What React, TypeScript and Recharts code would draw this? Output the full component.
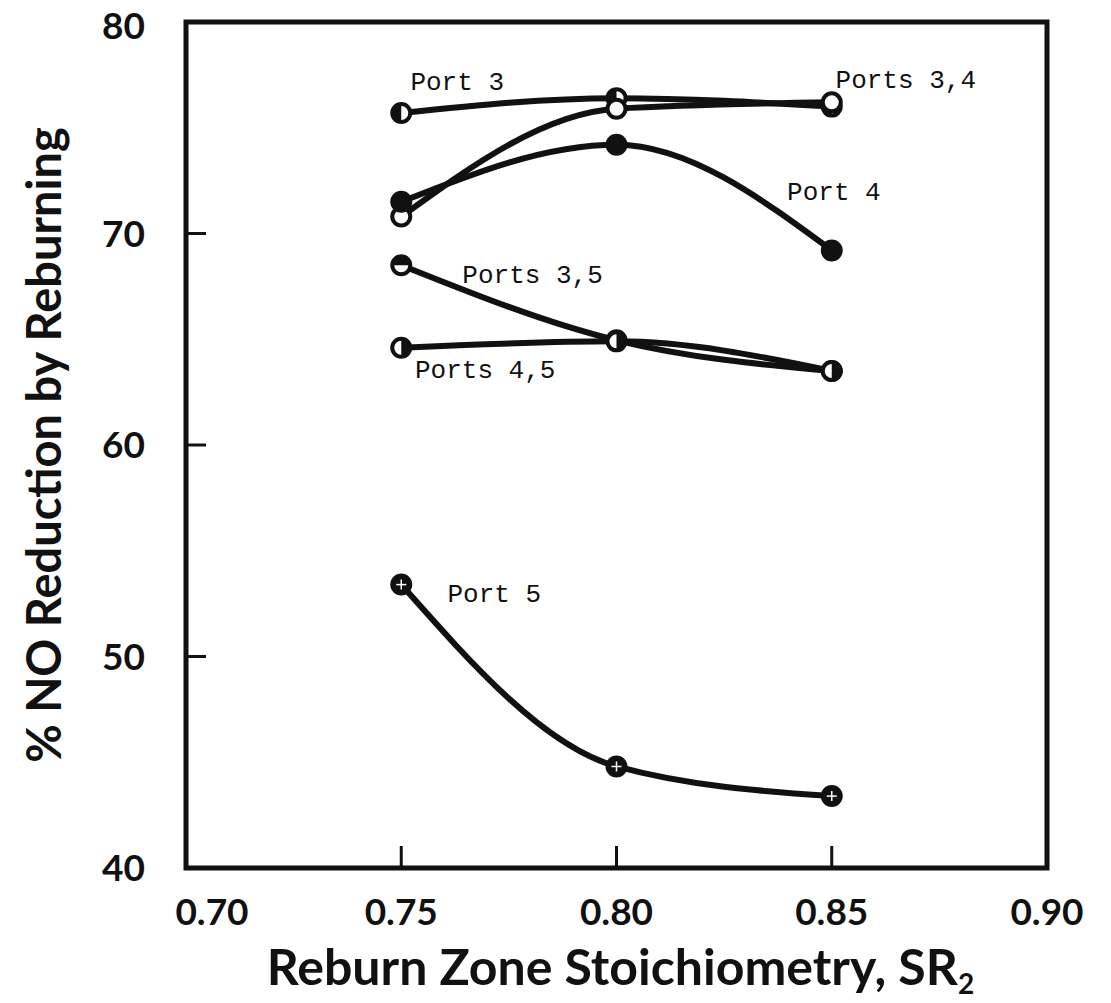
import React from "react";
import {
  LineChart,
  Line,
  XAxis,
  YAxis,
  ReferenceArea,
  ReferenceDot,
  Label,
} from "recharts";

// reburn zone stoichiometry SR2
const SR2 = [0.75, 0.8, 0.85];

// % NO reduction, one list per injection port combination
const PORT_3 = [75.7, 76.4, 76.0];
const PORTS_3_4 = [70.8, 75.9, 76.2];
const PORT_4 = [71.5, 74.2, 69.2];
const PORTS_3_5 = [68.5, 64.95, 63.5];
const PORTS_4_5 = [64.6, 64.9, 63.5];
const PORT_5 = [53.4, 44.8, 43.4];

const X_TICKS = [0.7, 0.75, 0.8, 0.85, 0.9];
const Y_TICKS = [40, 50, 60, 70, 80];

// curve annotations: text, x, y
const NOTES: [string, number, number][] = [
  ["Port 3", 0.763, 77.2],
  ["Ports 3,4", 0.8672, 77.3],
  ["Port 4", 0.8505, 72.0],
  ["Ports 3,5", 0.7805, 68.1],
  ["Ports 4,5", 0.7695, 63.6],
  ["Port 5", 0.7716, 53.0],
];

const data = SR2.map((sr, i) => ({
  sr,
  port3: PORT_3[i],
  ports34: PORTS_3_4[i],
  port4: PORT_4[i],
  ports35: PORTS_3_5[i],
  ports45: PORTS_4_5[i],
  port5: PORT_5[i],
}));

const INK = "#111";
const R = 9;

type Kind = "open" | "filled" | "left" | "right" | "top" | "cross";

function marker(kind: Kind) {
  return (p: any) => {
    const { cx, cy, key } = p;
    if (cx == null || cy == null) return <g key={key} />;
    let half: React.ReactNode = null;
    if (kind === "left")
      half = <path d={`M${cx},${cy - R} A${R},${R} 0 0 0 ${cx},${cy + R} Z`} fill={INK} />;
    if (kind === "right")
      half = <path d={`M${cx},${cy - R} A${R},${R} 0 0 1 ${cx},${cy + R} Z`} fill={INK} />;
    if (kind === "top")
      half = <path d={`M${cx - R},${cy} A${R},${R} 0 0 1 ${cx + R},${cy} Z`} fill={INK} />;
    return (
      <g key={key}>
        <circle
          cx={cx}
          cy={cy}
          r={R}
          fill={kind === "filled" || kind === "cross" ? INK : "#fff"}
          stroke={INK}
          strokeWidth={4}
        />
        {half}
        {kind === "cross" && (
          <g stroke="#fff" strokeWidth={1.5}>
            <line x1={cx - 5} y1={cy} x2={cx + 5} y2={cy} />
            <line x1={cx} y1={cy - 5} x2={cx} y2={cy + 5} />
          </g>
        )}
      </g>
    );
  };
}

const SERIES: [string, Kind][] = [
  ["port3", "left"],
  ["ports34", "open"],
  ["port4", "filled"],
  ["ports35", "top"],
  ["ports45", "right"],
  ["port5", "cross"],
];

const tickFont = {
  fontFamily: "Lato",
  fontWeight: 700,
  fontSize: 37,
  fill: INK,
};

const titleFont = {
  fontFamily: "Lato",
  fontWeight: 700,
  fontSize: 50,
  fill: INK,
};

// x tick labels; the first one sits a little inside the frame
function XTick(p: any) {
  const { x, y, payload } = p;
  const dx = payload.value === 0.7 ? 26 : 0;
  return (
    <text x={x + dx} y={y} dy="0.71em" textAnchor="middle" {...tickFont}>
      {payload.value.toFixed(2)}
    </text>
  );
}

// y tick labels; the top one is nudged down to stay clear of the edge
function YTick(p: any) {
  const { x, y, payload } = p;
  const dy = payload.value === 80 ? 4 : 0;
  return (
    <text x={x} y={y + dy} dy="0.355em" textAnchor="end" {...tickFont}>
      {payload.value}
    </text>
  );
}

export default function App() {
  return (
    <div style={{ background: "#fff", width: 1095, height: 995 }}>
      <style>{`svg.recharts-surface { overflow: visible; }`}</style>
      <LineChart
        width={1095}
        height={995}
        data={data}
        margin={{ top: 14, right: 56, bottom: 0, left: 0 }}
      >
        <XAxis
          type="number"
          dataKey="sr"
          domain={[0.7, 0.9]}
          ticks={X_TICKS}
          height={135}
          axisLine={false}
          tickSize={-22}
          tickMargin={53}
          tickLine={{ stroke: INK, strokeWidth: 3 }}
          tick={<XTick />}
        >
          <Label
            content={(p: any) => {
              const vb = p.viewBox;
              return (
                <text
                  x={vb.x + vb.width / 2 + 4}
                  y={vb.y + 117}
                  textAnchor="middle"
                  {...titleFont}
                >
                  Reburn Zone Stoichiometry, SR
                  <tspan fontSize={28} dy={9}>
                    2
                  </tspan>
                </text>
              );
            }}
          />
        </XAxis>
        <YAxis
          type="number"
          domain={[40, 80]}
          ticks={Y_TICKS}
          width={178}
          axisLine={false}
          tickSize={-20}
          tickMargin={61}
          tickLine={{ stroke: INK, strokeWidth: 3 }}
          tick={<YTick />}
        >
          <Label
            content={(p: any) => {
              const vb = p.viewBox;
              const cy = vb.y + vb.height / 2;
              return (
                <text
                  x={35}
                  y={cy}
                  textAnchor="middle"
                  dominantBaseline="central"
                  transform={`rotate(-90 35 ${cy})`}
                  {...titleFont}
                  fontSize={47}
                >
                  % NO Reduction by Reburning
                </text>
              );
            }}
          />
        </YAxis>
        <ReferenceArea
          x1={0.7}
          x2={0.9}
          y1={40}
          y2={80}
          fill="none"
          stroke={INK}
          strokeWidth={5}
          fillOpacity={0}
          ifOverflow="visible"
        />
        {SERIES.map(([key, kind]) => (
          <Line
            key={key}
            dataKey={key}
            type="monotone"
            stroke={INK}
            strokeWidth={6}
            dot={marker(kind)}
            activeDot={false}
            isAnimationActive={false}
          />
        ))}
        {NOTES.map(([text, x, y]) => (
          <ReferenceDot
            key={text}
            x={x}
            y={y}
            r={1}
            fill="none"
            stroke="none"
            label={{
              value: text,
              position: "center",
              fontFamily: "Liberation Mono",
              fontSize: 26,
              fill: INK,
            }}
          />
        ))}
      </LineChart>
    </div>
  );
}
